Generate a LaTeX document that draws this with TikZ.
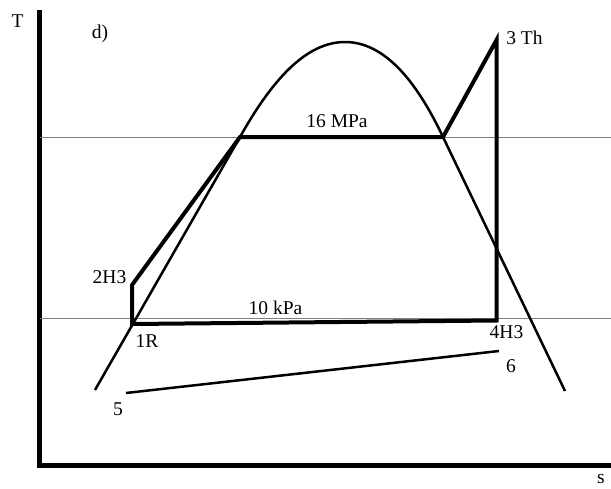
\documentclass[tikz,border=0pt]{standalone}
\usepackage{fontspec}
\setmainfont{Liberation Serif}
\begin{document}
\begin{tikzpicture}[x=1pt,y=-1pt,
  lbl/.style={anchor=base,inner sep=0pt,font=\fontsize{19.5}{22}\selectfont},
  axisline/.style={line width=4.5pt,black},
  isobar/.style={line width=1pt,gray},
  cycleline/.style={line width=4pt,black,line join=miter},
  domeline/.style={line width=2.5pt,black},
  expline/.style={line width=2.5pt,black}]
\useasboundingbox (0,0) rectangle (611,488);
% axes
\coordinate (ytop) at (39.5,10);
\coordinate (orig) at (39.5,465.5);
\coordinate (xend) at (611,465.5);
\draw[axisline] (ytop) -- (orig) -- (xend);
% isobars
\coordinate (hpl) at (40,137);
\coordinate (hpr) at (611,137);
\coordinate (lpl) at (40,318);
\coordinate (lpr) at (611,318);
\draw[isobar] (hpl) -- (hpr);
\draw[isobar] (lpl) -- (lpr);
% dome
\coordinate (dl) at (95,390);
\coordinate (fl) at (240,137);
\coordinate (pk) at (345,42);
\coordinate (fr) at (443,137);
\coordinate (dr) at (565,391);
\draw[domeline] (dl) -- (fl) .. controls (272,80) and (306,42) .. (pk)
  .. controls (384,42) and (416,80) .. (fr) -- (dr);
% cycle
\coordinate (p1) at (132,324);
\coordinate (p2) at (132,285);
\coordinate (p3) at (496.5,40);
\coordinate (p4) at (496.5,320.5);
\draw[cycleline] (p1) -- (p2) -- (fl) -- (fr) -- (p3) -- (p4) -- cycle;
% expansion line 5-6
\coordinate (p5) at (126,393);
\coordinate (p6) at (499,351);
\draw[expline] (p5) -- (p6);
% labels
\node[lbl] (lT) at (17.5,27) {T};
\node[lbl] (ld) at (100,38) {d)};
\node[lbl] (l3) at (524.5,44) {3 Th};
\node[lbl] (lhp) at (337,127) {16 MPa};
\node[lbl] (llp) at (275.5,314) {10 kPa};
\node[lbl] (l2) at (109.5,283) {2H3};
\node[lbl] (l1) at (147,347) {1R};
\node[lbl] (l4) at (506.5,338) {4H3};
\node[lbl] (l6) at (511,372) {6};
\node[lbl] (l5) at (118,415) {5};
\node[lbl] (ls) at (601,483) {s};
\end{tikzpicture}
\end{document}
